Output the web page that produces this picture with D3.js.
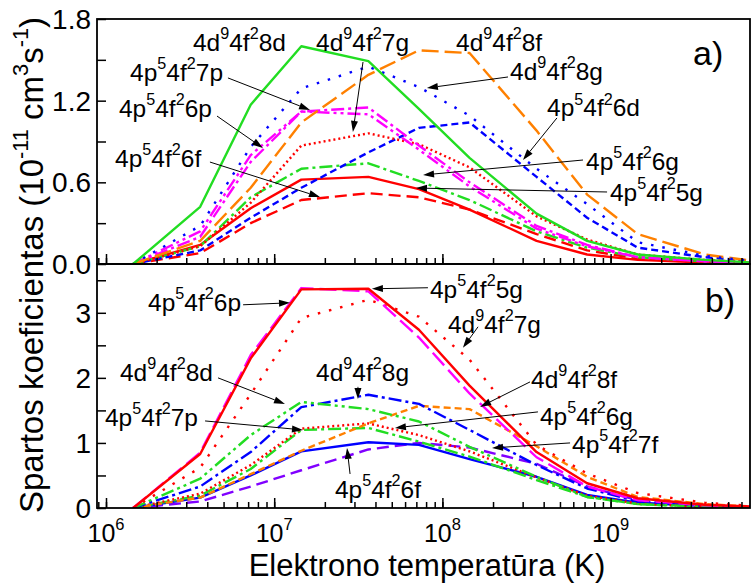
<!DOCTYPE html>
<html>
<head>
<meta charset="utf-8">
<script src="https://cdn.jsdelivr.net/npm/d3@7"></script>
<style>
  body { margin: 0; background: #fff; }
  text { font-family: "Liberation Sans", Arial, sans-serif; fill: #000; }
</style>
</head>
<body>
<svg id="chart" width="751" height="584"></svg>
<script>
// electron temperatures (K) shared by every curve
const temps = [1.45e6, 3.63e6, 7.25e6, 1.45e7, 3.63e7, 7.25e7, 1.45e8, 3.63e8, 7.25e8, 1.45e9, 3.63e9, 7.25e9];

// panel a) rate coefficients (1e-11 cm^3 s^-1)
const a8d = [0, 0.42, 1.17, 1.60, 1.49, 1.14, 0.78, 0.37, 0.17, 0.07, 0.03, 0.01];
const a7g = [0, 0.13, 0.45, 0.87, 0.96, 0.88, 0.71, 0.35, 0.18, 0.07, 0.03, 0.01];
const a8f = [0, 0.17, 0.56, 1.04, 1.39, 1.57, 1.55, 0.98, 0.51, 0.22, 0.07, 0.02];
const a7p = [0, 0.20, 0.75, 1.12, 1.15, 0.87, 0.60, 0.28, 0.14, 0.05, 0.02, 0.01];
const a8g = [0, 0.28, 0.86, 1.29, 1.45, 1.30, 1.09, 0.70, 0.44, 0.16, 0.06, 0.02];
const a6p = [0, 0.24, 0.80, 1.12, 1.10, 0.84, 0.57, 0.26, 0.13, 0.05, 0.02, 0.01];
const a6d = [0, 0.10, 0.34, 0.56, 0.82, 1.00, 1.04, 0.64, 0.34, 0.12, 0.05, 0.02];
const a6f = [0, 0.08, 0.30, 0.47, 0.52, 0.49, 0.40, 0.22, 0.10, 0.04, 0.01, 0.005];
const a6g = [0, 0.13, 0.49, 0.70, 0.74, 0.61, 0.47, 0.24, 0.12, 0.05, 0.02, 0.01];
const a5g = [0, 0.14, 0.41, 0.62, 0.64, 0.55, 0.40, 0.17, 0.07, 0.03, 0.01, 0.005];

// panel b)
const b5g = [0, 0.83, 2.30, 3.36, 3.37, 2.74, 1.88, 0.86, 0.38, 0.15, 0.05, 0.02];
const b6p = [0, 0.85, 2.35, 3.38, 3.33, 2.62, 1.76, 0.78, 0.33, 0.12, 0.04, 0.015];
const b7g = [0, 0.62, 1.75, 2.92, 3.20, 2.94, 2.28, 0.97, 0.53, 0.23, 0.08, 0.03];
const b8d = [0, 0.45, 1.12, 1.63, 1.52, 1.33, 0.94, 0.48, 0.17, 0.06, 0.02, 0.01];
const b8g = [0, 0.33, 0.86, 1.55, 1.74, 1.60, 1.20, 0.66, 0.30, 0.10, 0.04, 0.01];
const b8f = [0, 0.16, 0.52, 0.88, 1.30, 1.57, 1.52, 0.95, 0.48, 0.17, 0.06, 0.02];
const b6g = [0, 0.22, 0.66, 1.22, 1.30, 1.12, 0.87, 0.47, 0.19, 0.07, 0.02, 0.01];
const b7p = [0, 0.19, 0.60, 1.20, 1.23, 1.02, 0.79, 0.43, 0.17, 0.06, 0.02, 0.01];
const b6f = [0, 0.16, 0.50, 0.87, 1.01, 0.97, 0.75, 0.48, 0.20, 0.08, 0.03, 0.01];
const b7f = [0, 0.10, 0.33, 0.58, 0.90, 1.00, 0.93, 0.68, 0.33, 0.12, 0.04, 0.01];

// tick labels
const xTickExp = [6, 7, 8, 9];
const aTicks = [0, 0.6, 1.2, 1.8];
const bTicks = [0, 1, 2, 3];

// line styles
const dashes = {
  solid: null,
  dash: "12,6",
  longDash: "17,6",
  shortDash: "7,4",
  dot: "2,3",
  sparseDot: "2.5,9",
  dashDot: "13,4,3,4",
  dashDotDot: "13,4,3,4,3,4"
};
const col = { red: "#ff0000", green: "#22dd22", blue: "#0000ff", magenta: "#ff00ff", orange: "#ff8000", violet: "#8000ff" };

const seriesA = [
  { v: a6f, c: col.red, d: "dash" },
  { v: a5g, c: col.red, d: "solid" },
  { v: a6g, c: col.green, d: "dashDot" },
  { v: a6d, c: col.blue, d: "shortDash" },
  { v: a7g, c: col.red, d: "dot" },
  { v: a6p, c: col.magenta, d: "dashDotDot" },
  { v: a7p, c: col.magenta, d: "dashDot" },
  { v: a8f, c: col.orange, d: "longDash" },
  { v: a8g, c: col.blue, d: "sparseDot" },
  { v: a8d, c: col.green, d: "solid" }
];
const seriesB = [
  { v: b7f, c: col.violet, d: "dash" },
  { v: b6f, c: col.blue, d: "solid" },
  { v: b7p, c: col.green, d: "dashDot" },
  { v: b6g, c: col.red, d: "dot" },
  { v: b8f, c: col.orange, d: "shortDash" },
  { v: b8g, c: col.blue, d: "dashDot" },
  { v: b8d, c: col.green, d: "dashDotDot" },
  { v: b7g, c: col.red, d: "sparseDot" },
  { v: b6p, c: col.magenta, d: "longDash" },
  { v: b5g, c: col.red, d: "solid" }
];

// annotations: positions as [log10(T), value]
const notesA = [
  { t: "4d{9}4f{2}8d", at: [6.517, 1.565] },
  { t: "4d{9}4f{2}7g", at: [7.249, 1.565], from: [7.528, 1.484], to: [7.468, 0.970] },
  { t: "4d{9}4f{2}8f", at: [8.081, 1.565] },
  { t: "4p{5}4f{2}7p", at: [6.143, 1.345], from: [6.725, 1.367], to: [7.213, 1.132] },
  { t: "4d{9}4f{2}8g", at: [8.402, 1.352], from: [8.390, 1.374], to: [7.908, 1.293] },
  { t: "4p{5}4f{2}6p", at: [6.077, 1.080], from: [6.660, 1.087], to: [6.933, 0.852] },
  { t: "4p{5}4f{2}6d", at: [8.622, 1.087], from: [8.681, 1.073], to: [8.479, 0.764] },
  { t: "4p{5}4f{2}6f", at: [6.054, 0.713], from: [6.618, 0.749], to: [7.272, 0.492] },
  { t: "4p{5}4f{2}6g", at: [8.854, 0.691], from: [8.836, 0.764], to: [7.885, 0.654] },
  { t: "4p{5}4f{2}5g", at: [8.996, 0.463], from: [8.979, 0.529], to: [7.843, 0.558] }
];
const notesB = [
  { t: "4p{5}4f{2}6p", at: [6.250, 3.031], from: [6.815, 3.123], to: [7.094, 3.154] },
  { t: "4p{5}4f{2}5g", at: [7.926, 3.231], from: [7.914, 3.385], to: [7.581, 3.369] },
  { t: "4d{9}4f{2}7g", at: [8.033, 2.692], from: [8.212, 2.785], to: [8.122, 2.462] },
  { t: "4d{9}4f{2}8d", at: [6.083, 1.954], from: [6.666, 2.000], to: [7.064, 1.600] },
  { t: "4d{9}4f{2}8g", at: [7.249, 1.954], from: [7.498, 1.862], to: [7.498, 1.677] },
  { t: "4d{9}4f{2}8f", at: [8.527, 1.846], from: [8.521, 1.938], to: [8.224, 1.554] },
  { t: "4p{5}4f{2}7p", at: [5.994, 1.262], from: [6.589, 1.338], to: [7.171, 1.200] },
  { t: "4p{5}4f{2}6g", at: [8.580, 1.277], from: [8.568, 1.477], to: [7.718, 1.231] },
  { t: "4p{5}4f{2}7f", at: [8.771, 0.846], from: [8.759, 1.000], to: [8.295, 0.923] },
  { t: "4p{5}4f{2}6f", at: [7.361, 0.154], from: [7.451, 0.523], to: [7.433, 0.923] }
];

const left = 97, right = 750;
const decade = 168.2, x6 = 106;

const svg = d3.select('#chart');

const x = d3.scaleLog()
  .domain([Math.pow(10, 6 - (x6 - left) / decade), Math.pow(10, 6 + (right - x6) / decade)])
  .range([left, right]);

const panels = [
  { top: 19, bottom: 264, yMax: 1.8, ticks: aTicks, minor: [0.3, 0.9, 1.5], fmt: d3.format('.1f'), series: seriesA, notes: notesA, tag: "a)", tagAt: [9.49, 1.462] },
  { top: 264, bottom: 508, yMax: 3.75, ticks: bTicks, minor: [0.5, 1.5, 2.5, 3.5], fmt: d3.format('d'), series: seriesB, notes: notesB, tag: "b)", tagAt: [9.561, 3.015] }
];

// write "a{b}c" with {b} as superscript
function richText(t, str, fs) {
  const parts = str.split(/(\{[^}]*\})/).filter(s => s.length);
  let up = false;
  parts.forEach(p => {
    const sup = p[0] === '{';
    const s = t.append('tspan').text(sup ? p.slice(1, -1) : p);
    if (sup) {
      s.attr('font-size', fs * 0.66);
      if (!up) s.attr('dy', -fs * 0.47);
      up = true;
    } else {
      s.attr('font-size', fs);
      if (up) s.attr('dy', fs * 0.47);
      up = false;
    }
  });
}

const minorX = [];
for (let e = 5; e <= 9; e++) {
  for (let m = 1; m <= 9; m++) {
    const v = m * Math.pow(10, e);
    if (v >= x.domain()[0] && v <= x.domain()[1]) minorX.push(v);
  }
}
const majorX = xTickExp.map(e => Math.pow(10, e));

panels.forEach((p, i) => {
  const y = d3.scaleLinear().domain([0, p.yMax]).range([p.bottom, p.top]);
  const g = svg.append('g');

  const clipId = 'clip' + i;
  svg.append('clipPath').attr('id', clipId)
    .append('rect').attr('x', left).attr('y', p.top).attr('width', right - left).attr('height', p.bottom - p.top);

  const line = d3.line().x((d, j) => x(temps[j])).y(d => y(d));

  g.append('g').attr('clip-path', `url(#${clipId})`)
    .selectAll('path').data(p.series).join('path')
    .attr('d', s => line(s.v))
    .attr('fill', 'none')
    .attr('stroke', s => s.c)
    .attr('stroke-width', 2.4)
    .attr('stroke-linejoin', 'round')
    .attr('stroke-dasharray', s => dashes[s.d]);

  // ticks pointing inwards
  const xa = g.append('g').attr('transform', `translate(0,${p.bottom})`);
  xa.call(d3.axisBottom(x).tickValues(minorX).tickSize(-6).tickFormat(''));
  xa.append('g').call(d3.axisBottom(x).tickValues(majorX).tickSize(-10).tickFormat(''));
  xa.selectAll('.domain').remove();
  xa.selectAll('line').attr('stroke', '#000').attr('stroke-width', 1.5);

  const ya = g.append('g').attr('transform', `translate(${left},0)`);
  ya.call(d3.axisLeft(y).tickValues(p.ticks.concat(p.minor)).tickSize(-9).tickFormat(''));
  ya.selectAll('.domain').remove();
  ya.selectAll('line').attr('stroke', '#000').attr('stroke-width', 1.5);

  g.selectAll('text.ylab').data(p.ticks).join('text')
    .attr('class', 'ylab')
    .attr('x', 91).attr('y', d => y(d) + 10)
    .attr('text-anchor', 'end').attr('font-size', 28)
    .text(d => p.fmt(d));

  // annotations
  p.notes.forEach(n => {
    const t = g.append('text')
      .attr('x', x(Math.pow(10, n.at[0]))).attr('y', y(n.at[1]));
    richText(t, n.t, 24.5);
    if (n.from) {
      const x1 = x(Math.pow(10, n.from[0])), y1 = y(n.from[1]);
      const x2 = x(Math.pow(10, n.to[0])), y2 = y(n.to[1]);
      const a = Math.atan2(y2 - y1, x2 - x1);
      const L = 11, Wd = 3.5;
      const bx = x2 - L * Math.cos(a), by = y2 - L * Math.sin(a);
      g.append('line').attr('x1', x1).attr('y1', y1).attr('x2', bx).attr('y2', by)
        .attr('stroke', '#000').attr('stroke-width', 1);
      g.append('path')
        .attr('d', `M${x2},${y2}L${bx + Wd * Math.sin(a)},${by - Wd * Math.cos(a)}L${bx - Wd * Math.sin(a)},${by + Wd * Math.cos(a)}Z`)
        .attr('fill', '#000');
    }
  });

  g.append('text')
    .attr('x', x(Math.pow(10, p.tagAt[0]))).attr('y', y(p.tagAt[1]))
    .attr('font-size', 34).text(p.tag);

  // frame
  g.append('rect')
    .attr('x', left).attr('y', p.top).attr('width', right - left).attr('height', p.bottom - p.top)
    .attr('fill', 'none').attr('stroke', '#000').attr('stroke-width', 1.8);
});

// x tick labels
majorX.forEach((v, i) => {
  const t = svg.append('text').attr('x', x(v)).attr('y', 542).attr('text-anchor', 'middle');
  richText(t, '10{' + xTickExp[i] + '}', 25);
});

svg.append('text')
  .attr('x', 427).attr('y', 576).attr('text-anchor', 'middle')
  .attr('font-size', 31).text('Elektrono temperatūra (K)');

const yt = svg.append('text')
  .attr('transform', 'translate(43,265) rotate(-90)')
  .attr('text-anchor', 'middle');
richText(yt, 'Spartos koeficientas (10{-11} cm{3}s{-1})', 33);
</script>
</body>
</html>
